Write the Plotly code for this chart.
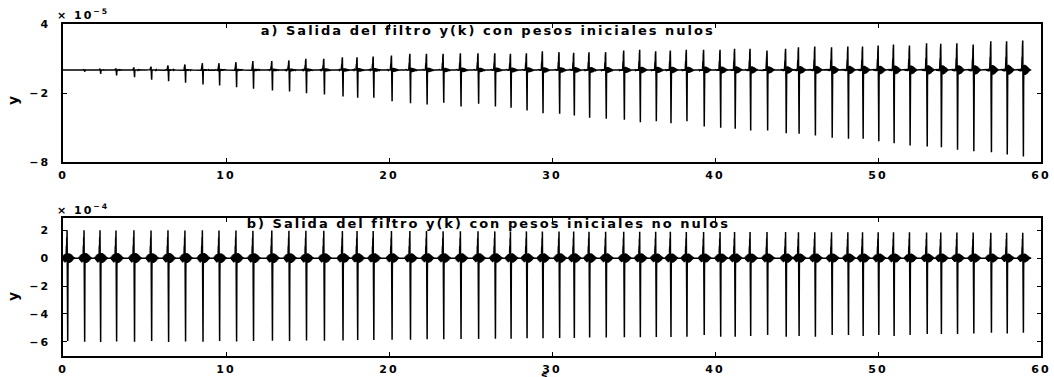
import numpy as np
import plotly.graph_objects as go

# ---------------- data ----------------
# pulse instants (s), shared by both panels
SPIKE_T = [0.28, 1.32, 2.30, 3.28, 4.38, 5.43, 6.47, 7.51, 8.58, 9.60,
           10.64, 11.68, 12.84, 13.89, 14.93, 16.03, 17.17, 18.07, 19.06, 20.18,
           21.31, 22.33, 23.35, 24.41, 25.49, 26.52, 27.48, 28.46, 29.44, 30.46,
           31.36, 32.30, 33.32, 34.43, 35.41, 36.39, 37.29, 38.27, 39.33, 40.34,
           41.23, 42.18, 43.22, 44.36, 45.15, 46.15, 47.18, 48.18, 49.08, 50.04,
           50.98, 51.96, 53.01, 53.88, 54.87, 55.87, 56.95, 57.92, 58.91]

# panel a: peak values (x 1e-5)
TOP_UP = [0.00, 0.05, 0.10, 0.15, 0.24, 0.30, 0.39, 0.48, 0.59, 0.59,
          0.68, 0.77, 0.77, 0.83, 0.97, 0.97, 1.11, 1.11, 1.17, 1.26,
          1.41, 1.41, 1.41, 1.46, 1.46, 1.46, 1.41, 1.46, 1.63, 1.55,
          1.50, 1.55, 1.55, 1.70, 1.76, 1.63, 1.70, 1.76, 1.76, 1.76,
          1.84, 1.84, 1.70, 1.84, 1.98, 2.04, 1.98, 2.04, 2.04, 2.13,
          2.22, 2.13, 2.33, 2.28, 2.33, 2.22, 2.50, 2.50, 2.57]
TOP_DOWN = [-0.05, -0.15, -0.33, -0.48, -0.63, -0.85, -0.97, -1.11, -1.26, -1.35,
            -1.50, -1.63, -1.78, -1.87, -2.02, -2.13, -2.30, -2.42, -2.42, -2.71,
            -2.89, -3.00, -2.85, -3.17, -2.94, -3.17, -3.29, -3.52, -3.76, -3.81,
            -3.96, -4.16, -4.24, -4.33, -4.54, -4.45, -4.63, -4.45, -4.91, -5.03,
            -5.11, -5.26, -5.26, -5.50, -5.55, -5.70, -5.90, -5.98, -5.98, -6.19,
            -6.37, -6.57, -6.65, -6.71, -6.94, -7.06, -7.15, -7.35, -7.52]

# panel b: peak values (x 1e-4)
BOT_UP = [2.00, 2.00, 2.00, 1.98, 2.00, 1.98, 2.00, 1.98, 2.00, 1.98,
          1.98, 1.96, 1.98, 1.96, 1.96, 1.96, 1.95, 1.95, 1.95, 1.94,
          1.94, 1.94, 1.93, 1.93, 1.93, 1.92, 1.92, 1.92, 1.91, 1.91,
          1.91, 1.90, 1.90, 1.90, 1.89, 1.89, 1.89, 1.88, 1.88, 1.88,
          1.88, 1.87, 1.87, 1.87, 1.86, 1.86, 1.86, 1.86, 1.85, 1.85,
          1.85, 1.85, 1.84, 1.84, 1.84, 1.84, 1.83, 1.83, 1.83]
BOT_DOWN = [-5.95, -6.00, -6.02, -5.98, -6.00, -5.95, -6.02, -5.98, -6.00, -5.95,
            -5.98, -5.95, -5.92, -5.95, -5.90, -5.92, -5.90, -5.88, -5.88, -5.85,
            -5.85, -5.82, -5.82, -5.80, -5.80, -5.78, -5.78, -5.75, -5.75, -5.72,
            -5.72, -5.70, -5.70, -5.68, -5.68, -5.66, -5.65, -5.64, -5.52, -5.64,
            -5.64, -5.59, -5.52, -5.64, -5.59, -5.64, -5.52, -5.52, -5.59, -5.52,
            -5.59, -5.52, -5.45, -5.45, -5.45, -5.40, -5.36, -5.40, -5.36]

X_TICKS = [0, 10, 20, 30, 40, 50, 60]
TOP_YTICKS = [-8, -2, 4]
BOT_YTICKS = [-6, -4, -2, 0, 2]
T_END = 59.4

TITLE_A = "a) Salida del filtro y(k) con pesos iniciales nulos"
TITLE_B = "b) Salida del filtro y(k) con pesos iniciales no nulos"

# one pulse, as seen in the picture: offsets (s) and weights of the
# up peak, the down peak and the ringing on each side
PULSE_DT = [-0.34, -0.31, -0.28, -0.25, -0.22, -0.19, -0.16, -0.13, -0.10,
            -0.085, -0.07, -0.06, -0.05, -0.04, -0.03, -0.02,
            -0.005, 0.01, 0.025,
            0.04, 0.065, 0.09, 0.115, 0.14, 0.165, 0.19, 0.215, 0.24, 0.265,
            0.29, 0.315, 0.34, 0.37, 0.40, 0.44]
W_UP = [0, 0, 0, 0, 0, 0, 0, 0, 0,
        0.1, 0.45, 0.15, 0.75, 0.3, 1.0, 0.5,
        0, 0, 0,
        0, 0, 0, 0, 0, 0, 0, 0, 0, 0, 0, 0, 0, 0, 0, 0]
W_DOWN = [0, 0, 0, 0, 0, 0, 0, 0, 0,
          0, 0, 0, 0, 0, 0, 0,
          0.2, 1.0, 0.15,
          0, 0, 0, 0, 0, 0, 0, 0, 0, 0, 0, 0, 0, 0, 0, 0]
W_LEFT = [0, 0.3, -0.4, 0.55, -0.65, 0.75, -0.85, 0.85, -0.7,
          0, 0, 0, 0, 0, 0, 0,
          0, 0, 0,
          0, 0, 0, 0, 0, 0, 0, 0, 0, 0, 0, 0, 0, 0, 0, 0]
W_RIGHT = [0, 0, 0, 0, 0, 0, 0, 0, 0,
           0, 0, 0, 0, 0, 0, 0,
           0, 0, 0,
           0.95, -0.95, 1.0, -0.95, 0.9, -0.85, 0.8, -0.75, 0.65, -0.6,
           0.5, -0.4, 0.3, -0.2, 0.1, 0]


def build(times, ups, downs, left_k, right_k):
    dt = np.array(PULSE_DT)
    xs, ys = [0.0], [0.0]
    for t, u, d in zip(times, ups, downs):
        ring = 0.045 * (u - d)
        y = (u * np.array(W_UP) + d * np.array(W_DOWN)
             + ring * (left_k * np.array(W_LEFT) + right_k * np.array(W_RIGHT)))
        xs.extend((t + dt).tolist())
        ys.extend(y.tolist())
    xs.append(T_END)
    ys.append(0.0)
    return xs, ys


xa, ya = build(SPIKE_T, TOP_UP, TOP_DOWN, 0.3, 1.0)
xb, yb = build(SPIKE_T, BOT_UP, BOT_DOWN, 1.0, 1.0)

fig = go.Figure()
line = dict(color="black", width=1.5)
fig.add_trace(go.Scatter(x=xa, y=ya, mode="lines", line=line, xaxis="x", yaxis="y",
                         showlegend=False, hoverinfo="skip"))
fig.add_trace(go.Scatter(x=xb, y=yb, mode="lines", line=line, xaxis="x2", yaxis="y2",
                         showlegend=False, hoverinfo="skip"))

W, H = 1054, 377
L, R = 63, 1041
FONT = "DejaVu Sans"
tickfont = dict(family=FONT, size=11, color="black", weight="bold")

axis_common = dict(showline=True, linecolor="black", linewidth=1.5, mirror="ticks",
                   ticks="inside", ticklen=4, tickcolor="black", tickwidth=1.2,
                   showgrid=False, zeroline=False, tickfont=tickfont)


def py(px):
    return 1 - px / H


fig.update_layout(
    width=W, height=H,
    margin=dict(l=L, r=W - R, t=0, b=0, autoexpand=False),
    paper_bgcolor="white", plot_bgcolor="white",
    xaxis=dict(domain=[0, 1], range=[0, 60], tickvals=X_TICKS, anchor="y",
               ticklabelstandoff=2, **axis_common),
    yaxis=dict(domain=[py(162), py(24)], range=[-8, 4], tickvals=TOP_YTICKS,
               anchor="x", ticklabelstandoff=9, **axis_common),
    xaxis2=dict(domain=[0, 1], range=[0, 60], tickvals=X_TICKS, anchor="y2",
                ticklabelstandoff=2, **axis_common),
    yaxis2=dict(domain=[py(356), py(218)], range=[-7.02, 2.88], tickvals=BOT_YTICKS,
                anchor="x2", ticklabelstandoff=9, **axis_common),
)


def px_x(px):
    return (px - L) / (R - L)


ann_font = dict(family=FONT, size=13, color="black", weight="bold")
fig.add_annotation(text=TITLE_A, x=26.1, xref="x", y=py(30), yref="paper",
                   xanchor="center", yanchor="middle", showarrow=False, font=ann_font)
fig.add_annotation(text=TITLE_B, x=26.1, xref="x2", y=py(223.5), yref="paper",
                   xanchor="center", yanchor="middle", showarrow=False, font=ann_font)
small = dict(family=FONT, size=11, color="black", weight="bold")
fig.add_annotation(text="× 10<sup>−5</sup>", x=px_x(61), xref="paper", y=py(15), yref="paper",
                   xanchor="left", yanchor="middle", showarrow=False, font=small)
fig.add_annotation(text="× 10<sup>−4</sup>", x=px_x(61), xref="paper", y=py(209), yref="paper",
                   xanchor="left", yanchor="middle", showarrow=False, font=small)
fig.add_annotation(text="y", x=px_x(13), xref="paper", y=py(100), yref="paper",
                   xanchor="center", yanchor="middle", textangle=-90, showarrow=False,
                   font=dict(family=FONT, size=14, color="black", weight="bold"))
fig.add_annotation(text="y", x=px_x(13), xref="paper", y=py(296), yref="paper",
                   xanchor="center", yanchor="middle", textangle=-90, showarrow=False,
                   font=dict(family=FONT, size=14, color="black", weight="bold"))
fig.add_annotation(text="s", x=px_x(545), xref="paper", y=py(367), yref="paper",
                   xanchor="center", yanchor="top", showarrow=False, font=small)

POST = """
document.body.style.margin = '0';
document.body.style.overflow = 'hidden';
var gd = document.getElementById('{plot_id}');
function spread() {
  gd.querySelectorAll('.annotation-text').forEach(function (e) {
    e.style.letterSpacing = '2px';
  });
  gd.querySelectorAll('.xtick text, .ytick text, .x2tick text, .y2tick text').forEach(function (e) {
    e.style.letterSpacing = '2px';
  });
}
spread();
gd.on('plotly_afterplot', spread);
"""

fig.write_html("out.html", post_script=POST, config={"displayModeBar": False})
